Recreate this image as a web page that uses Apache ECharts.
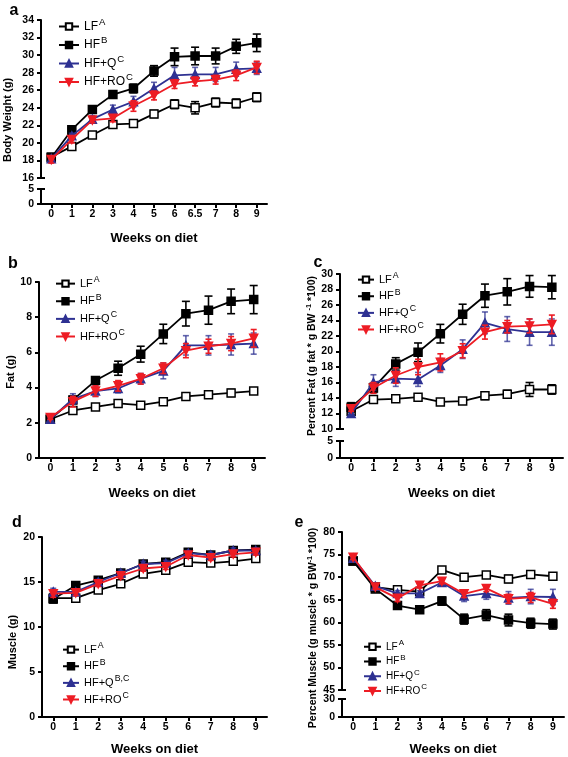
<!DOCTYPE html>
<html><head><meta charset="utf-8">
<script src="https://cdn.jsdelivr.net/npm/echarts@6/dist/echarts.min.js"></script>
<style>html,body{margin:0;padding:0;background:#fff}#c{width:568px;height:757px}</style>
</head><body><div id="c"></div>
<script>
// ---------- categories / tick labels ----------
const weeksA = ['0','1','2','3','4','5','6','6.5','7','8','9'];
const weeks = ['0','1','2','3','4','5','6','7','8','9'];
const groups = ['LF','HF','HF+Q','HF+RO'];

// ---------- a: Body weight (g) ----------
const bwLF = [18.4,19.6,20.9,22.1,22.2,23.3,24.4,24.0,24.6,24.5,25.2];
const bwLFErr = [0.3,0.3,0.3,0.3,0.3,0.4,0.5,0.7,0.5,0.5,0.5];
const bwHF = [18.3,21.5,23.8,25.5,26.2,28.2,29.8,29.9,29.9,31.0,31.4];
const bwHFErr = [0.3,0.2,0.2,0.3,0.5,0.6,1.0,1.0,0.9,0.8,1.0];
const bwQ = [18.2,20.8,22.7,23.8,24.7,26.2,27.7,27.8,27.8,28.4,28.5];
const bwQErr = [0.3,0.3,0.4,0.5,0.6,0.7,0.9,0.8,0.8,0.8,0.7];
const bwRO = [18.1,20.4,22.6,22.8,24.2,25.4,26.7,27.0,27.2,27.7,28.6];
const bwROErr = [0.4,0.4,0.3,0.4,0.6,0.5,0.5,0.5,0.5,0.6,0.7];

// ---------- b: Fat (g) ----------
const fatLF = [2.2,2.7,2.9,3.1,3.0,3.2,3.5,3.6,3.7,3.8];
const fatLFErr = [0.1,0.1,0.1,0.1,0.1,0.1,0.1,0.1,0.2,0.15];
const fatHF = [2.2,3.3,4.4,5.1,5.9,7.05,8.2,8.4,8.9,9.0];
const fatHFErr = [0.1,0.2,0.2,0.4,0.45,0.55,0.7,0.8,0.7,0.8];
const fatQ = [2.2,3.35,3.8,3.95,4.5,4.95,6.4,6.4,6.45,6.5];
const fatQErr = [0.1,0.3,0.3,0.25,0.3,0.45,0.55,0.55,0.6,0.6];
const fatRO = [2.3,3.2,3.8,4.1,4.5,5.1,6.1,6.35,6.5,6.8];
const fatROErr = [0.1,0.3,0.3,0.3,0.3,0.3,0.4,0.4,0.4,0.5];

// ---------- c: Percent fat ----------
const pfLF = [12.3,13.8,13.9,14.1,13.5,13.6,14.3,14.5,15.1,15.1];
const pfLFErr = [0.5,0.3,0.4,0.4,0.4,0.3,0.5,0.5,0.9,0.6];
const pfHF = [12.8,15.3,18.4,19.9,22.3,24.8,27.2,27.7,28.4,28.3];
const pfHFErr = [0.6,0.6,0.8,1.2,1.2,1.3,1.5,1.7,1.4,1.5];
const pfQ = [12.0,16.0,16.5,16.4,18.2,20.3,23.7,22.9,22.5,22.5];
const pfQErr = [0.3,1.0,1.0,0.9,0.9,1.2,1.4,1.6,1.7,1.7];
const pfRO = [12.6,15.3,16.9,18.0,18.6,20.1,22.5,23.2,23.3,23.5];
const pfROErr = [0.3,0.7,1.0,1.0,1.1,0.9,0.9,0.8,0.9,1.2];

// ---------- d: Muscle (g) ----------
const muLF = [13.2,13.2,14.1,14.8,15.9,16.3,17.2,17.1,17.3,17.6];
const muLFErr = [0.5,0.3,0.3,0.3,0.3,0.3,0.3,0.3,0.3,0.3];
const muHF = [13.1,14.6,15.2,16.0,17.0,17.2,18.3,18.0,18.5,18.6];
const muHFErr = [0.4,0.3,0.3,0.3,0.3,0.3,0.3,0.3,0.3,0.3];
const muQ = [13.9,13.9,15.0,16.0,17.0,17.1,18.2,18.0,18.5,18.5];
const muQErr = [0.4,0.3,0.3,0.3,0.3,0.3,0.3,0.3,0.3,0.3];
const muRO = [13.7,13.8,14.8,15.7,16.5,16.7,18.0,17.7,18.1,18.3];
const muROErr = [0.4,0.3,0.3,0.3,0.3,0.3,0.3,0.3,0.3,0.3];

// ---------- e: Percent muscle ----------
const pmLF = [73.6,67.8,67.2,66.8,71.6,70.0,70.5,69.6,70.6,70.2];
const pmLFErr = [0.5,0.5,0.5,0.5,0.5,0.5,0.5,0.8,0.6,0.5];
const pmHF = [73.6,67.4,63.7,62.8,64.7,60.7,61.6,60.5,59.8,59.6];
const pmHFErr = [0.4,0.5,0.5,0.6,0.9,1.1,1.2,1.3,1.1,1.1];
const pmQ = [74.2,68.0,66.4,66.4,68.8,65.8,66.4,65.4,65.7,65.6];
const pmQErr = [0.5,0.5,0.6,0.6,0.8,1.2,1.3,1.4,1.6,1.7];
const pmRO = [74.4,67.8,65.3,68.2,69.1,66.3,67.5,65.2,65.5,64.1];
const pmROErr = [0.5,0.5,0.7,0.6,0.6,0.8,0.7,1.0,1.1,1.0];

// ---------- legend superscripts ----------
const supStd = ['A','B','C','C'];
const supD = ['A','B','B,C','C'];

// ================= building =================
const FONT = 'Liberation Sans, Arial, Helvetica, sans-serif';
const INV_TRI = 'path://M0,0L20,0L10,17Z';
const STYLE = {
  'LF':    {line:'#000', fill:'#fff', symbol:'rect', size:8, err:'#000', cap:8},
  'HF':    {line:'#000', fill:'#000', symbol:'rect', size:8, err:'#000', cap:8},
  'HF+Q':  {line:'#2e3192', fill:'#2e3192', symbol:'triangle', size:8, err:'rgba(46,49,146,0.75)', cap:6},
  'HF+RO': {line:'#ed1c24', fill:'#ed1c24', symbol:INV_TRI, size:8, err:'#ed1c24', cap:6}
};

const option = {
  animation:false,
  backgroundColor:'#fff',
  grid:[], xAxis:[], yAxis:[], series:[], legend:[], graphic:[]
};

function axisCommon(){
  return {
    axisLine:{show:true, lineStyle:{color:'#000', width:2}},
    axisTick:{show:true, length:4, lineStyle:{color:'#000', width:2}},
    splitLine:{show:false},
    axisLabel:{color:'#000', fontWeight:'bold', fontSize:10.5, fontFamily:FONT}
  };
}

function addPanel(p){
  const gIdx = [];
  p.rects.forEach((r, k) => {
    const gi = option.grid.length;
    gIdx.push(gi);
    option.grid.push({left:p.left, width:p.width, top:r.top, height:r.bottom - r.top, containLabel:false});
    const isLast = k === p.rects.length - 1;
    const xa = Object.assign(axisCommon(), {
      type:'category', gridIndex:gi, data:p.cats, boundaryGap:true,
      axisTick:{show:isLast, alignWithLabel:true, length:4, lineStyle:{color:'#000', width:2}},
      axisLine:{show:isLast, lineStyle:{color:'#000', width:2}},
      axisLabel:{show:isLast, color:'#000', fontWeight:'bold', fontSize:10.5, fontFamily:FONT, margin:5, interval:0}
    });
    if (isLast) {
      xa.name = 'Weeks on diet';
      xa.nameLocation = 'middle';
      xa.nameGap = p.xNameGap;
      xa.nameTextStyle = {color:'#000', fontWeight:'bold', fontSize:13, fontFamily:FONT};
    }
    option.xAxis.push(xa);
    const ya = Object.assign(axisCommon(), {
      type:'value', gridIndex:gi, min:r.min, max:r.max, interval:r.interval
    });
    ya.axisLabel.margin = 7;
    option.yAxis.push(ya);
  });
  const xi = option.xAxis.length - p.rects.length;
  const yi = option.yAxis.length - p.rects.length;
  groups.forEach((g, k) => {
    const st = STYLE[g];
    const vals = p.vals[k], errs = p.errs[k];
    const errData = vals.map((v, i) => [i, v - errs[i], v + errs[i]]);
    option.series.push({
      type:'custom', name:g + ' SEM', xAxisIndex:xi, yAxisIndex:yi, z:2 + k*2,
      data:errData, encode:{x:0, y:[1,2]}, silent:true,
      renderItem:(params, api) => {
        const x = api.value(0);
        const lo = api.coord([x, api.value(1)]);
        const hi = api.coord([x, api.value(2)]);
        const w = st.cap/2;
        const s = {stroke:st.err, lineWidth:1.6};
        return {type:'group', children:[
          {type:'line', shape:{x1:hi[0], y1:hi[1], x2:lo[0], y2:lo[1]}, style:s},
          {type:'line', shape:{x1:hi[0]-w, y1:hi[1], x2:hi[0]+w, y2:hi[1]}, style:s},
          {type:'line', shape:{x1:lo[0]-w, y1:lo[1], x2:lo[0]+w, y2:lo[1]}, style:s}
        ]};
      }
    });
    option.series.push({
      type:'line', name:g, xAxisIndex:xi, yAxisIndex:yi, z:3 + k*2,
      data:vals, symbol:st.symbol, symbolSize:st.size, showSymbol:true,
      lineStyle:{color:st.line, width:1.8},
      itemStyle:{color:st.fill, borderColor:st.line, borderWidth:1.5},
      emphasis:{disabled:true}
    });
  });
  const sups = p.sups;
  option.legend.push({
    data:groups, orient:'vertical', left:p.legend.left, top:p.legend.top,
    itemWidth:p.legend.itemWidth, itemHeight:8, itemGap:p.legend.gap,
    selectedMode:false, padding:0,
    textStyle:{color:'#000', fontSize:p.legend.fs, fontFamily:FONT,
      rich:{n:{fontSize:p.legend.fs, fontFamily:FONT, color:'#000'},
            s:{fontSize:p.legend.fs*0.8, fontFamily:FONT, color:'#000', padding:[0,0,p.legend.fs*0.75,1]}}},
    formatter:(name) => '{n|' + name + '}{s|' + sups[groups.indexOf(name)] + '}'
  });
  if (p.rects.length > 1) {
    const u = p.rects[0], l = p.rects[1];
    [u.bottom, l.top].forEach(yy => {
      option.graphic.push({type:'line', shape:{x1:p.left-4, y1:yy, x2:p.left+4, y2:yy}, style:{stroke:'#000', lineWidth:2}});
    });
  }
  option.graphic.push({type:'text', x:p.yName.x, y:p.yName.y, rotation:Math.PI/2,
    style:{text:p.yName.text, rich:p.yName.rich, font:'bold ' + p.yName.fs + 'px ' + FONT, fill:'#000', align:'center', verticalAlign:'middle'}});
  option.graphic.push({type:'text', x:p.letter.x, y:p.letter.y,
    style:{text:p.letter.t, font:'bold 16px ' + FONT, fill:'#000', align:'center', verticalAlign:'middle'}});
}

const supRich = (fs) => ({
  m:{font:'bold ' + fs + 'px ' + FONT, fill:'#000'},
  sp:{font:'bold ' + (fs*0.7) + 'px ' + FONT, fill:'#000', padding:[0,0,fs*0.6,0]}
});

addPanel({
  cats:weeksA, left:41, width:226,
  rects:[{top:20, bottom:178, min:16, max:34, interval:2}, {top:189, bottom:204, min:0, max:5, interval:5}],
  vals:[bwLF, bwHF, bwQ, bwRO], errs:[bwLFErr, bwHFErr, bwQErr, bwROErr],
  sups:supStd, xNameGap:28,
  legend:{left:58, top:17, itemWidth:20, gap:3, fs:12},
  yName:{x:8, y:120, text:'Body Weight (g)', fs:11},
  letter:{x:14, y:11, t:'a'}
});
addPanel({
  cats:weeks, left:39, width:226,
  rects:[{top:282, bottom:458, min:0, max:10, interval:2}],
  vals:[fatLF, fatHF, fatQ, fatRO], errs:[fatLFErr, fatHFErr, fatQErr, fatROErr],
  sups:supStd, xNameGap:29,
  legend:{left:55, top:275, itemWidth:19, gap:3.5, fs:11},
  yName:{x:11, y:372, text:'Fat (g)', fs:11},
  letter:{x:13, y:264, t:'b'}
});
addPanel({
  cats:weeks, left:340, width:223,
  rects:[{top:274, bottom:429, min:10, max:30, interval:2}, {top:441, bottom:458, min:0, max:5, interval:5}],
  vals:[pfLF, pfHF, pfQ, pfRO], errs:[pfLFErr, pfHFErr, pfQErr, pfROErr],
  sups:supStd, xNameGap:29,
  legend:{left:357, top:271, itemWidth:16, gap:2.5, fs:11},
  yName:{x:312, y:356, text:'{m|Percent Fat (g fat * g BW }{sp|-1}{m| *100)}', rich:supRich(10.5), fs:10.5},
  letter:{x:318, y:263, t:'c'}
});
addPanel({
  cats:weeks, left:42, width:225,
  rects:[{top:537, bottom:720, min:0, max:20, interval:5}],
  vals:[muLF, muHF, muQ, muRO], errs:[muLFErr, muHFErr, muQErr, muROErr],
  sups:supD, xNameGap:26,
  legend:{left:62, top:641, itemWidth:16, gap:2.5, fs:11},
  yName:{x:13, y:642, text:'Muscle (g)', fs:11},
  letter:{x:17, y:523, t:'d'}
});
addPanel({
  cats:weeks, left:342, width:222,
  rects:[{top:532, bottom:690, min:45, max:80, interval:5}, {top:699, bottom:720, min:0, max:30, interval:30}],
  vals:[pmLF, pmHF, pmQ, pmRO], errs:[pmLFErr, pmHFErr, pmQErr, pmROErr],
  sups:supStd, xNameGap:26,
  legend:{left:363, top:639, itemWidth:17, gap:2, fs:10},
  yName:{x:313, y:628, text:'{m|Percent Muscle (g muscle * g BW}{sp|-1}{m| *100)}', rich:supRich(10.5), fs:10.5},
  letter:{x:299, y:523, t:'e'}
});

const chart = echarts.init(document.getElementById('c'), null, {renderer:'canvas'});
chart.setOption(option);
</script>
</body></html>
